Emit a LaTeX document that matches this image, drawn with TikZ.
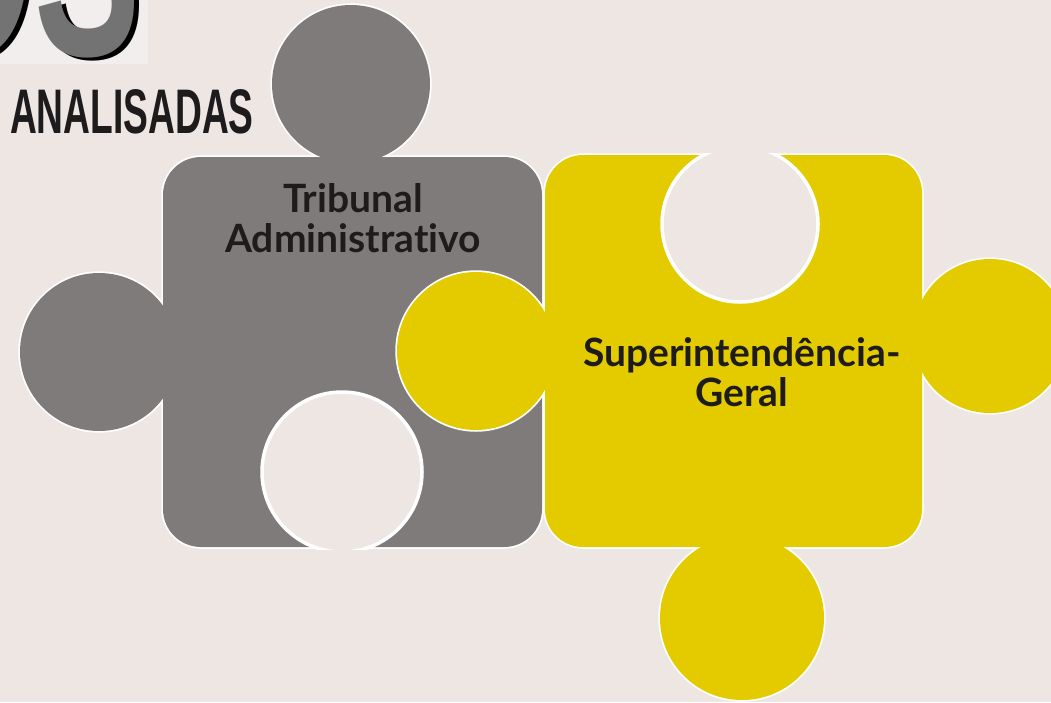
\documentclass[tikz,border=0pt]{standalone}
\usepackage{fontspec}
\setmainfont{Lato}[Ligatures={NoCommon,NoRare}]
\newfontfamily\titlefont{Liberation Sans}
\definecolor{bg}{HTML}{EDE6E3}
\definecolor{boxbg}{HTML}{F1EEED}
\definecolor{piecegray}{HTML}{807B7B}
\definecolor{pieceyellow}{HTML}{E3CB00}
\definecolor{ink}{HTML}{1E1B1C}
\begin{document}
\begin{tikzpicture}[x=1pt,y=-1pt]
	\tikzstyle{rim}=[draw=white,line width=3.5pt]
	\tikzstyle{label}=[font=\fontsize{39}{40}\selectfont\bfseries,text=ink,align=center]
	\tikzstyle{heading}=[anchor=base west,xscale=0.59,text=ink,font=\titlefont\bfseries\fontsize{63}{63}\selectfont]
	\fill[bg] (0,0) rectangle (1051,702);
	\useasboundingbox (0,0) rectangle (1051,702);
	\newcommand*{\graybits}[1]{
		\path[#1,rounded corners=38] (163,157) rectangle (542,547);
		\foreach \cx/\cy in {351/84,99/352}{
			\path[#1] (\cx,\cy) circle[radius=79];
		}
	}
	\newcommand*{\yellowbits}[1]{
		\path[#1,rounded corners=38] (545,155) rectangle (922,547);
		\foreach \cx/\cy/\r in {476/351/79,990/336/77,742/618/82}{
			\path[#1] (\cx,\cy) circle[radius=\r];
		}
	}
	% title
	\begin{scope}
		\clip (0,0) rectangle (148,64);
		\fill[boxbg] (0,0) rectangle (148,64);
		\node[heading,anchor=base east,font=\titlefont\bfseries\fontsize{270}{270}\selectfont,text=black] (os_shadow) at (148,58) {OS};
		\node[heading,anchor=base east,font=\titlefont\bfseries\fontsize{270}{270}\selectfont,text=black!55] (os) at (143,55) {OS};
	\end{scope}
	\node[heading] (analisadas) at (8,133) {ANALISADAS};
	% gray piece
	\graybits{rim}
	\graybits{fill=piecegray}
	\begin{scope}
		\clip (161,155) rectangle (544,549);
		\path[rim,fill=bg] (342,472) circle[radius=80];
	\end{scope}
	% yellow piece
	\yellowbits{rim}
	\yellowbits{fill=pieceyellow}
	\begin{scope}
		\clip (543,153) rectangle (924,549);
		\path[rim,fill=bg] (740,224) circle[radius=78];
	\end{scope}
	\node[label] (tribunal) at (353,218) {Tribunal\\Administrativo};
	\node[label] (superintendencia) at (742,372) {Superintendência-\\Geral};
\end{tikzpicture}
\end{document}
